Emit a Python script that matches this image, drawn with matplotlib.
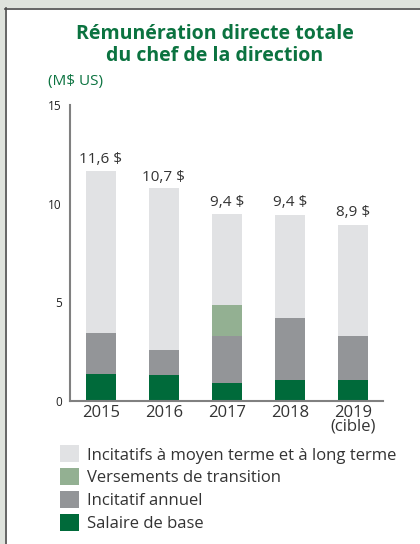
import matplotlib.pyplot as plt
from matplotlib.patches import Patch, Rectangle

years = ["2015", "2016", "2017", "2018", "2019\n(cible)"]
totals = [11.6, 10.7, 9.4, 9.4, 8.9]
total_labels = ["11,6 $", "10,7 $", "9,4 $", "9,4 $", "8,9 $"]
salaire = [1.35, 1.30, 0.90, 1.05, 1.05]
incitatif_annuel = [2.08, 1.27, 2.38, 3.15, 2.23]
transition = [0.0, 0.0, 1.57, 0.0, 0.0]
# long-term portion as drawn in the chart (bar tops)
incitatifs_lt = [8.22, 8.20, 4.62, 5.20, 5.62]

labels = [
    "Incitatifs à moyen terme et à long terme",
    "Versements de transition",
    "Incitatif annuel",
    "Salaire de base",
]
colors = ["#e1e2e4", "#93b092", "#939598", "#006a3a"]
title_green = "#0b7340"

plt.rcParams["font.family"] = ["Open Sans", "DejaVu Sans"]

W, H = 420, 544
fig = plt.figure(figsize=(W / 100, H / 100), dpi=100)
fig.patch.set_facecolor("#dfe3dd")
# white panel with dark border on left/top
fig.patches.append(Rectangle((5 / W, 0), 1, 1 - 8 / H, transform=fig.transFigure,
                             facecolor="white", edgecolor="none", zorder=-5))
fig.add_artist(plt.Line2D([5.5 / W, 5.5 / W], [0, 1 - 8 / H], transform=fig.transFigure,
                          color="#4a4a4a", lw=1.2, zorder=-4))
fig.add_artist(plt.Line2D([5 / W, 1], [1 - 8.5 / H, 1 - 8.5 / H], transform=fig.transFigure,
                          color="#4a4a4a", lw=1.2, zorder=-4))

ax = fig.add_axes([70 / W, 1 - 400.7 / H, 313 / W, 295.7 / H])
ax.set_facecolor("none")

x = list(range(len(years)))
bw = 0.476
bottom = [0.0] * len(x)
for vals, c in [(salaire, colors[3]), (incitatif_annuel, colors[2]),
                (transition, colors[1]), (incitatifs_lt, colors[0])]:
    ax.bar(x, vals, bw, bottom=bottom, color=c, linewidth=0)
    bottom = [b + v for b, v in zip(bottom, vals)]

for xi, t, lab in zip(x, totals, total_labels):
    ax.text(xi, t + 0.25, lab, ha="center", va="bottom", fontsize=11, color="#333333")

ax.set_xlim(-0.49, 4.48)
ax.set_ylim(0, 15)
ax.set_yticks([0, 5, 10, 15])
ax.set_yticklabels(["0", "5", "10", "15"], fontsize=8.5, color="#222222")
ax.set_xticks(x)
ax.set_xticklabels(years, fontsize=12, color="#333333", linespacing=0.8)
ax.tick_params(axis="both", length=0)
ax.tick_params(axis="y", pad=6)
ax.tick_params(axis="x", pad=3)
for s in ["top", "right"]:
    ax.spines[s].set_visible(False)
for s in ["left", "bottom"]:
    ax.spines[s].set_color("#808080")
    ax.spines[s].set_linewidth(1.5)

fig.text(215 / W, 1 - 45 / H, "Rémunération directe totale\ndu chef de la direction",
         ha="center", va="center", fontsize=14, fontweight="bold", color=title_green,
         linespacing=1.1)
fig.text(48 / W, 1 - 82 / H, "(M$ US)", ha="left", va="center", fontsize=11,
         color=title_green)

handles = [Patch(facecolor=c, edgecolor="none") for c in colors]
fig.legend(handles, labels, loc="upper left", bbox_to_anchor=(52 / W, 1 - 437 / H),
           frameon=False, fontsize=12, handlelength=1.1, handleheight=1.2,
           handletextpad=0.5, labelspacing=0.28, borderpad=0, labelcolor="#333333")

fig.savefig("out.png", dpi=100, facecolor=fig.get_facecolor())
